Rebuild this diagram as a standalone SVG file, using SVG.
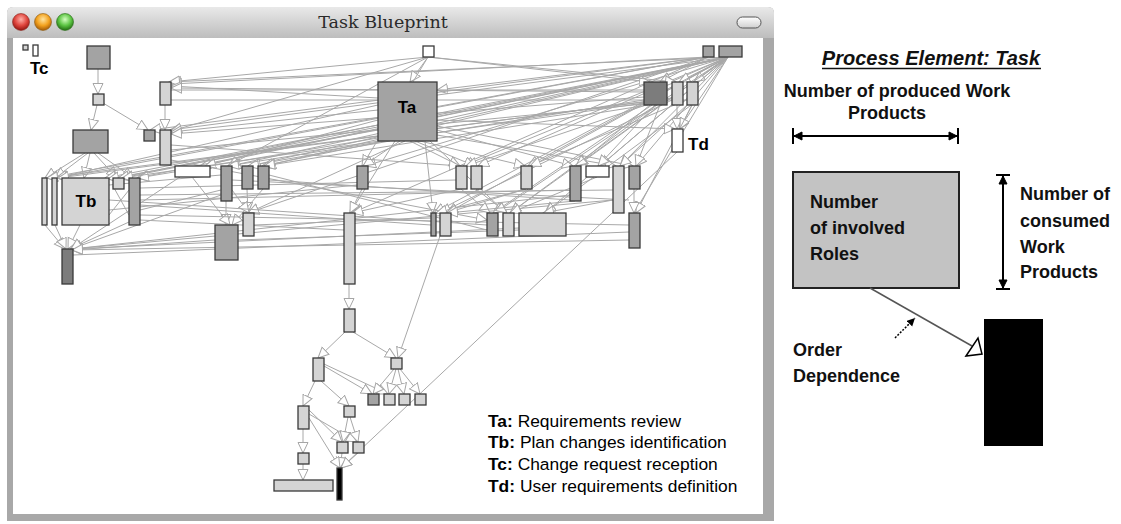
<svg xmlns="http://www.w3.org/2000/svg" width="1121" height="524" viewBox="0 0 1121 524">
<defs>
<linearGradient id="tb" x1="0" y1="0" x2="0" y2="1"><stop offset="0" stop-color="#e9e9e9"/><stop offset="1" stop-color="#bdbdbd"/></linearGradient>
<radialGradient id="gr" cx="0.5" cy="0.35" r="0.6"><stop offset="0" stop-color="#ffb0a8"/><stop offset="0.6" stop-color="#e0473f"/><stop offset="1" stop-color="#9e1c16"/></radialGradient>
<radialGradient id="go" cx="0.5" cy="0.35" r="0.6"><stop offset="0" stop-color="#ffe4a0"/><stop offset="0.6" stop-color="#f3a21f"/><stop offset="1" stop-color="#b0650a"/></radialGradient>
<radialGradient id="gg" cx="0.5" cy="0.35" r="0.6"><stop offset="0" stop-color="#d4ffc0"/><stop offset="0.6" stop-color="#5cc443"/><stop offset="1" stop-color="#2a7a18"/></radialGradient>
<linearGradient id="pill" x1="0" y1="0" x2="0" y2="1"><stop offset="0" stop-color="#ffffff"/><stop offset="1" stop-color="#cfcfcf"/></linearGradient>
<marker id="ah" markerUnits="userSpaceOnUse" markerWidth="13" markerHeight="13" refX="11" refY="5.5" orient="auto"><path d="M0.5,0.5 L11,5.5 L0.5,10.5 Z" fill="#fff" stroke="#a6a6a6" stroke-width="1"/></marker>
<marker id="dh" markerUnits="userSpaceOnUse" markerWidth="10" markerHeight="10" refX="8" refY="4" orient="auto"><path d="M0,0 L8,4 L0,8 Z" fill="#000"/></marker>
<style>
.n{stroke:#3a3a3a;stroke-width:1.3}
.lt{fill:#d4d4d4}.md{fill:#a3a3a3}.dk{fill:#7c7c7c}.wh{fill:#fff}.bk{fill:#000}
.e{stroke:#a8a8a8;stroke-width:1;fill:none;marker-end:url(#ah)}
.f{stroke:#a8a8a8;stroke-width:1;fill:none}
.lab{font-family:"Liberation Sans",Arial,sans-serif;font-weight:bold;font-size:17px;fill:#000}
.leg{font-family:"Liberation Sans",Arial,sans-serif;font-size:17.4px;fill:#000}
.rp{font-family:"Liberation Sans",Arial,sans-serif;font-weight:bold;font-size:18px;fill:#111}
</style>
</defs>
<rect width="1121" height="524" fill="#fff"/>
<g id="window">
<path d="M7,13 Q7,7 13,7 L768,7 Q774,7 774,13 L774,521 L7,521 Z" fill="#a8a8a8"/>
<path d="M7,13 Q7,7 13,7 L768,7 Q774,7 774,13 L774,38 L7,38 Z" fill="url(#tb)"/>
<rect x="13" y="38" width="750" height="476" fill="#fff"/>
<circle cx="21" cy="22" r="8.5" fill="url(#gr)" stroke="#8a2a24" stroke-width="0.6"/>
<circle cx="43" cy="22" r="8.5" fill="url(#go)" stroke="#8a5a14" stroke-width="0.6"/>
<circle cx="65" cy="22" r="8.5" fill="url(#gg)" stroke="#2a6a1a" stroke-width="0.6"/>
<rect x="737" y="17" width="24" height="11" rx="5.5" fill="url(#pill)" stroke="#555" stroke-width="1"/>
<text x="383" y="28" text-anchor="middle" font-family="'DejaVu Serif',serif" font-size="17.5" fill="#2a2a2a">Task Blueprint</text>
</g>
<g id="connectors">
<path class="e" d="M98,69 L98,94"/>
<path class="e" d="M97,105 L91,130"/>
<path class="e" d="M103,103 L148,130"/>
<path class="e" d="M165,105 L165,130"/>
<path class="e" d="M85,153 L45,178"/>
<path class="e" d="M88,153 L55,178"/>
<path class="e" d="M90,153 L84,178"/>
<path class="e" d="M94,153 L117,178"/>
<path class="e" d="M98,153 L133,178"/>
<path class="e" d="M80,225 L68,249"/>
<path class="e" d="M45,225 L65,249"/>
<path class="e" d="M55,225 L66,249"/>
<path class="e" d="M129,222 L70,249"/>
<path class="f" d="M113,186 L129,215"/>
<path class="f" d="M109,215 L129,190"/>
<path class="e" d="M221,195 L71,249"/>
<path class="e" d="M570,195 L72,249"/>
<path class="e" d="M519,228 L72,249"/>
<path class="e" d="M629,240 L72,250"/>
<path class="e" d="M613,200 L72,249"/>
<path class="e" d="M180,177 L71,249"/>
<path class="e" d="M215,240 L72,250"/>
<path class="e" d="M728,57 L170,82"/>
<path class="e" d="M728,57 L170,130"/>
<path class="e" d="M728,57 L200,166"/>
<path class="e" d="M728,57 L230,166"/>
<path class="e" d="M728,57 L250,166"/>
<path class="e" d="M728,57 L265,166"/>
<path class="e" d="M728,57 L365,166"/>
<path class="e" d="M728,57 L463,166"/>
<path class="e" d="M728,57 L478,166"/>
<path class="e" d="M728,57 L528,166"/>
<path class="e" d="M728,57 L577,166"/>
<path class="e" d="M728,57 L600,166"/>
<path class="e" d="M728,57 L620,166"/>
<path class="e" d="M728,57 L636,166"/>
<path class="e" d="M728,57 L679,129"/>
<path class="e" d="M728,57 L679,82"/>
<path class="e" d="M728,57 L694,82"/>
<path class="e" d="M728,57 L122,178"/>
<path class="e" d="M728,57 L137,178"/>
<path class="e" d="M728,57 L434,213"/>
<path class="e" d="M728,57 L447,213"/>
<path class="e" d="M728,57 L495,213"/>
<path class="e" d="M728,57 L510,213"/>
<path class="e" d="M728,57 L545,213"/>
<path class="e" d="M728,57 L105,178"/>
<path class="e" d="M728,57 L634,213"/>
<path class="e" d="M708,57 L660,82"/>
<path class="e" d="M708,57 L437,90"/>
<path class="e" d="M708,57 L171,84"/>
<path class="e" d="M708,57 L150,130"/>
<path class="e" d="M708,57 L352,213"/>
<path class="e" d="M708,57 L47,178"/>
<path class="e" d="M708,57 L57,178"/>
<path class="e" d="M708,57 L248,213"/>
<path class="e" d="M428,57 L410,82"/>
<path class="e" d="M428,57 L169,82"/>
<path class="e" d="M428,57 L228,166"/>
<path class="e" d="M428,57 L362,166"/>
<path class="e" d="M428,57 L650,82"/>
<path class="e" d="M428,57 L676,82"/>
<path class="e" d="M428,57 L171,131"/>
<path class="e" d="M378,98 L171,86"/>
<path class="e" d="M378,110 L171,132"/>
<path class="e" d="M378,120 L205,166"/>
<path class="e" d="M378,130 L108,179"/>
<path class="e" d="M378,138 L138,178"/>
<path class="e" d="M385,141 L262,166"/>
<path class="e" d="M390,141 L248,166"/>
<path class="e" d="M395,141 L350,213"/>
<path class="e" d="M400,141 L363,166"/>
<path class="e" d="M410,141 L460,166"/>
<path class="e" d="M415,141 L475,166"/>
<path class="e" d="M420,141 L525,166"/>
<path class="e" d="M425,141 L433,213"/>
<path class="e" d="M437,130 L573,166"/>
<path class="e" d="M437,135 L616,166"/>
<path class="e" d="M437,120 L675,129"/>
<path class="e" d="M437,126 L633,166"/>
<path class="e" d="M405,141 L248,213"/>
<path class="e" d="M430,141 L506,213"/>
<path class="e" d="M378,125 L118,178"/>
<path class="e" d="M378,105 L56,178"/>
<path class="e" d="M644,92 L171,88"/>
<path class="e" d="M644,97 L171,134"/>
<path class="e" d="M644,100 L228,166"/>
<path class="e" d="M644,103 L122,178"/>
<path class="e" d="M644,102 L47,178"/>
<path class="e" d="M650,105 L576,166"/>
<path class="e" d="M655,105 L598,166"/>
<path class="e" d="M660,105 L636,166"/>
<path class="e" d="M652,105 L493,213"/>
<path class="e" d="M657,105 L510,213"/>
<path class="e" d="M648,105 L264,166"/>
<path class="e" d="M646,105 L466,166"/>
<path class="e" d="M677,105 L677,129"/>
<path class="e" d="M692,105 L680,129"/>
<path class="e" d="M692,105 L636,213"/>
<path class="e" d="M687,105 L620,166"/>
<path class="e" d="M672,100 L440,213"/>
<path class="e" d="M672,98 L58,178"/>
<path class="e" d="M698,100 L545,213"/>
<path class="e" d="M698,95 L530,166"/>
<path class="f" d="M171,90 L644,90"/>
<path class="f" d="M171,150 L644,104"/>
<path class="f" d="M171,100 L687,100"/>
<path class="e" d="M171,160 L487,220"/>
<path class="e" d="M171,145 L460,166"/>
<path class="e" d="M226,201 L226,225"/>
<path class="e" d="M247,189 L248,213"/>
<path class="e" d="M263,189 L232,225"/>
<path class="e" d="M634,189 L634,213"/>
<path class="e" d="M362,189 L350,213"/>
<path class="e" d="M461,189 L490,213"/>
<path class="e" d="M461,189 L352,213"/>
<path class="e" d="M476,189 L507,213"/>
<path class="e" d="M526,189 L436,213"/>
<path class="e" d="M526,189 L446,213"/>
<path class="e" d="M575,201 L447,213"/>
<path class="e" d="M613,200 L543,213"/>
<path class="e" d="M597,177 L510,213"/>
<path class="e" d="M232,190 L249,213"/>
<path class="e" d="M192,177 L230,225"/>
<path class="f" d="M140,200 L570,190"/>
<path class="f" d="M140,195 L613,190"/>
<path class="f" d="M109,200 L487,225"/>
<path class="f" d="M238,240 L519,230"/>
<path class="f" d="M140,215 L629,225"/>
<path class="f" d="M140,205 L431,225"/>
<path class="f" d="M140,188 L456,180"/>
<path class="f" d="M109,210 L357,185"/>
<path class="f" d="M140,220 L344,230"/>
<path class="f" d="M232,180 L629,200"/>
<path class="f" d="M269,180 L570,200"/>
<path class="f" d="M254,225 L431,218"/>
<path class="f" d="M269,175 L487,230"/>
<path class="f" d="M109,185 L221,175"/>
<path class="f" d="M140,210 L221,190"/>
<path class="f" d="M73,255 L629,232"/>
<path class="e" d="M349,284 L349,309"/>
<path class="e" d="M345,332 L318,358"/>
<path class="e" d="M353,332 L396,358"/>
<path class="e" d="M440,236 L398,358"/>
<path class="e" d="M677,152 L341,468"/>
<path class="e" d="M315,381 L303,406"/>
<path class="e" d="M321,381 L349,406"/>
<path class="e" d="M324,366 L372,394"/>
<path class="e" d="M324,364 L388,394"/>
<path class="e" d="M394,369 L373,394"/>
<path class="e" d="M396,369 L389,394"/>
<path class="e" d="M398,369 L404,394"/>
<path class="e" d="M400,369 L420,394"/>
<path class="e" d="M303,429 L303,453"/>
<path class="e" d="M309,410 L342,442"/>
<path class="e" d="M309,414 L357,442"/>
<path class="e" d="M348,417 L343,442"/>
<path class="e" d="M350,417 L358,442"/>
<path class="e" d="M342,453 L340,468"/>
<path class="e" d="M358,453 L341,468"/>
<path class="e" d="M303,464 L303,480"/>
<path class="e" d="M309,418 L340,468"/>
</g>
<g id="nodes">
<rect id="n1" class="n lt" x="23" y="45" width="5" height="5"/>
<rect id="n2" class="n wh" x="33" y="45" width="5" height="11"/>
<rect id="A1" class="n md" x="87" y="46" width="23" height="23"/>
<rect id="A2" class="n lt" x="93" y="94" width="11" height="11"/>
<rect id="A3" class="n md" x="73" y="130" width="35" height="23"/>
<rect id="A4" class="n md" x="144" y="130" width="11" height="11"/>
<rect id="L1" class="n lt" x="160" y="82" width="11" height="23"/>
<rect id="L2" class="n lt" x="160" y="130" width="11" height="35"/>
<rect id="B1" class="n lt" x="42" y="178" width="5" height="47"/>
<rect id="B2" class="n lt" x="52" y="178" width="5" height="47"/>
<g id="Tb"><rect class="n lt" x="62" y="178" width="47" height="47"/><text class="lab" x="86" y="207" text-anchor="middle">Tb</text></g>
<rect id="B3" class="n lt" x="113" y="178" width="11" height="11"/>
<rect id="B4" class="n md" x="129" y="178" width="11" height="47"/>
<rect id="BL" class="n dk" x="62" y="249" width="11" height="35"/>
<rect id="W1" class="n wh" x="175" y="166" width="35" height="11"/>
<rect id="M1" class="n md" x="221" y="166" width="11" height="35"/>
<rect id="M2" class="n md" x="242" y="166" width="11" height="23"/>
<rect id="M3" class="n md" x="258" y="166" width="11" height="23"/>
<rect id="R1" class="n lt" x="243" y="213" width="11" height="23"/>
<rect id="Big" class="n md" x="215" y="225" width="23" height="35"/>
<rect id="M4" class="n md" x="357" y="166" width="11" height="23"/>
<rect id="R2" class="n lt" x="344" y="213" width="11" height="71"/>
<rect id="Ttop" class="n wh" x="423" y="46" width="11" height="11"/>
<g id="Ta"><rect class="n md" x="378" y="82" width="59" height="59"/><text class="lab" x="407" y="113" text-anchor="middle">Ta</text></g>
<rect id="M5" class="n lt" x="456" y="166" width="11" height="23"/>
<rect id="M6" class="n lt" x="471" y="166" width="11" height="23"/>
<rect id="M7" class="n lt" x="521" y="166" width="11" height="23"/>
<rect id="M8" class="n md" x="570" y="166" width="11" height="35"/>
<rect id="W2" class="n wh" x="586" y="166" width="23" height="11"/>
<rect id="M9" class="n lt" x="613" y="166" width="11" height="47"/>
<rect id="M10" class="n md" x="629" y="166" width="11" height="23"/>
<rect id="R10" class="n md" x="629" y="213" width="11" height="35"/>
<rect id="R3" class="n md" x="431" y="213" width="5" height="23"/>
<rect id="R4" class="n lt" x="440" y="213" width="11" height="23"/>
<rect id="R5" class="n md" x="487" y="213" width="11" height="23"/>
<rect id="R6" class="n lt" x="503" y="213" width="11" height="23"/>
<rect id="R7" class="n lt" x="519" y="213" width="47" height="23"/>
<rect id="TR1" class="n md" x="703" y="46" width="11" height="11"/>
<rect id="TR2" class="n md" x="719" y="46" width="23" height="11"/>
<rect id="DK" class="n dk" x="644" y="82" width="23" height="23"/>
<rect id="K1" class="n lt" x="672" y="82" width="11" height="23"/>
<rect id="K2" class="n lt" x="687" y="82" width="11" height="23"/>
<g id="Td"><rect class="n wh" x="672" y="129" width="11" height="23"/><text class="lab" x="688" y="150">Td</text></g>
<text id="Tc" class="lab" x="30" y="74">Tc</text>
<rect id="C1" class="n lt" x="344" y="309" width="11" height="23"/>
<rect id="C2" class="n lt" x="313" y="358" width="11" height="23"/>
<rect id="C3" class="n lt" x="391" y="358" width="11" height="11"/>
<rect id="Q1" class="n md" x="368" y="394" width="11" height="11"/>
<rect id="Q2" class="n lt" x="384" y="394" width="11" height="11"/>
<rect id="Q3" class="n lt" x="399" y="394" width="11" height="11"/>
<rect id="Q4" class="n lt" x="415" y="394" width="11" height="11"/>
<rect id="C4" class="n lt" x="298" y="406" width="11" height="23"/>
<rect id="C5" class="n lt" x="344" y="406" width="11" height="11"/>
<rect id="C6" class="n lt" x="337" y="442" width="11" height="11"/>
<rect id="C7" class="n lt" x="353" y="442" width="11" height="11"/>
<rect id="C8" class="n lt" x="298" y="453" width="11" height="11"/>
<rect id="WB" class="n lt" x="274" y="480" width="59" height="11"/>
<rect id="BB" class="n bk" x="337" y="468" width="5" height="32"/>
</g>
<g id="legend">
<text class="leg" x="488" y="427"><tspan font-weight="bold">Ta:</tspan> Requirements review</text>
<text class="leg" x="488" y="448"><tspan font-weight="bold">Tb:</tspan> Plan changes identification</text>
<text class="leg" x="488" y="470"><tspan font-weight="bold">Tc:</tspan> Change request reception</text>
<text class="leg" x="488" y="492"><tspan font-weight="bold">Td:</tspan> User requirements definition</text>
</g>
<g id="explain">
<text x="931" y="65" text-anchor="middle" font-family="'Liberation Sans',Arial,sans-serif" font-weight="bold" font-style="italic" font-size="20" fill="#111">Process Element: Task</text>
<line x1="822" y1="68.5" x2="1041" y2="68.5" stroke="#111" stroke-width="1.5"/>
<text class="rp" x="897" y="97" text-anchor="middle">Number of produced Work</text>
<text class="rp" x="887" y="119" text-anchor="middle">Products</text>
<g id="dimH" stroke="#000" stroke-width="2">
<line x1="793" y1="136" x2="958" y2="136"/>
<line x1="793" y1="128" x2="793" y2="144"/>
<line x1="958" y1="128" x2="958" y2="144"/>
<path d="M794,136 L802,132 L802,140 Z" fill="#000" stroke-width="1"/>
<path d="M957,136 L949,132 L949,140 Z" fill="#000" stroke-width="1"/>
</g>
<g id="taskbox">
<rect x="793" y="172" width="166" height="116" fill="#c3c3c3" stroke="#222" stroke-width="2"/>
<text class="rp" x="810" y="208">Number</text>
<text class="rp" x="810" y="234">of involved</text>
<text class="rp" x="810" y="260">Roles</text>
</g>
<g id="dimV" stroke="#000" stroke-width="2">
<line x1="1003" y1="175" x2="1003" y2="289"/>
<line x1="996" y1="175" x2="1010" y2="175"/>
<line x1="996" y1="289" x2="1010" y2="289"/>
<path d="M1003,176 L999,184 L1007,184 Z" fill="#000" stroke-width="1"/>
<path d="M1003,288 L999,280 L1007,280 Z" fill="#000" stroke-width="1"/>
</g>
<text class="rp" x="1020" y="200">Number of</text>
<text class="rp" x="1020" y="227">consumed</text>
<text class="rp" x="1020" y="253">Work</text>
<text class="rp" x="1020" y="278">Products</text>
<line x1="870" y1="288" x2="972" y2="346" stroke="#555" stroke-width="1.5"/>
<path d="M966,356 L978,338 L982,354 Z" fill="#fff" stroke="#000" stroke-width="1.5"/>
<rect x="984" y="319" width="59" height="127" fill="#000"/>
<line x1="895" y1="338" x2="915" y2="318" stroke="#000" stroke-width="1.5" stroke-dasharray="2,1.5" marker-end="url(#dh)"/>
<text class="rp" x="793" y="356">Order</text>
<text class="rp" x="793" y="382">Dependence</text>
</g>
</svg>
